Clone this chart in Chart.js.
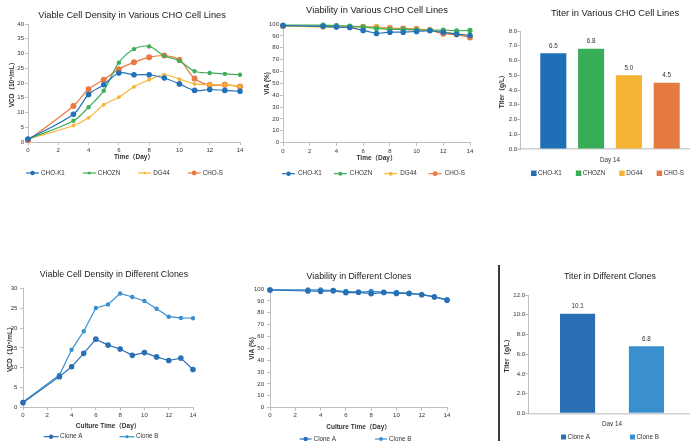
<!DOCTYPE html>
<html>
<head>
<meta charset="utf-8">
<title>CHO cell line comparison</title>
<script src="https://cdn.jsdelivr.net/npm/chart.js@4.4.1/dist/chart.umd.min.js"></script>
<style>
  html, body { margin: 0; padding: 0; width: 690px; height: 441px; overflow: hidden; background: #fff; }
  canvas { position: absolute; }
  #divider { position: absolute; left: 498px; top: 265px; width: 2px; height: 176px; background: #3a3a3a; }
</style>
</head>
<body>
<canvas id="vcdLines"></canvas>
<canvas id="viaLines"></canvas>
<canvas id="titerLines"></canvas>
<canvas id="vcdClones"></canvas>
<canvas id="viaClones"></canvas>
<canvas id="titerClones"></canvas>
<div id="divider"></div>
<script>
// ---- data ----
const days = [0, 3, 4, 5, 6, 7, 8, 9, 10, 11, 12, 13, 14];
const cellLines = ['CHO-K1', 'CHOZN', 'DG44', 'CHO-S'];
const clones = ['Clone A', 'Clone B'];

const vcdK1 = [1.0, 9.4, 16.1, 19.4, 23.4, 22.8, 22.8, 21.7, 19.7, 17.5, 17.8, 17.5, 17.2];
const vcdZN = [1.0, 7.2, 11.8, 17.4, 26.9, 31.5, 32.4, 29.2, 27.5, 24.0, 23.4, 23.1, 22.8];
const vcdDG = [1.0, 5.6, 8.2, 12.6, 15.2, 18.7, 21.1, 22.8, 21.3, 19.7, 19.4, 19.4, 18.9];
const vcdS  = [0.6, 12.2, 17.9, 21.1, 24.7, 27.0, 28.7, 29.3, 27.8, 21.5, 19.3, 19.4, 18.8];

const viaK1 = [98.6, 98.0, 97.4, 97.1, 94.6, 92.0, 93.1, 93.1, 93.7, 94.3, 93.0, 91.5, 90.3];
const viaZN = [99.1, 99.1, 98.6, 98.3, 97.5, 96.3, 95.4, 95.4, 95.0, 94.9, 94.9, 94.3, 94.6];
const viaDG = [98.3, 97.4, 97.6, 97.4, 97.5, 97.4, 95.8, 95.4, 94.8, 94.5, 93.1, 92.0, 90.0];
const viaS  = [98.3, 98.0, 98.0, 97.4, 97.7, 97.4, 96.6, 96.3, 95.7, 94.9, 91.7, 91.1, 88.6];

const titerLines = [6.5, 6.8, 5.0, 4.5];

const vcdA = [1.1, 7.7, 10.2, 13.6, 17.2, 15.7, 14.7, 13.1, 13.8, 12.7, 11.8, 12.4, 9.5];
const vcdB = [1.3, 8.1, 14.5, 19.2, 25.1, 26.0, 28.8, 27.9, 26.9, 24.9, 22.9, 22.6, 22.5];

const viaA = [99.2, 98.3, 98.0, 98.6, 96.9, 97.2, 96.1, 97.0, 96.3, 96.2, 95.2, 93.3, 90.6];
const viaB = [99.2, 99.2, 99.2, 98.6, 98.0, 97.3, 98.0, 97.3, 97.2, 96.5, 95.3, 93.6, 90.8];

const titerClones = [10.1, 6.8];

// ---- styles ----
const FONT = "'Liberation Sans', Arial, 'Noto Sans CJK SC', sans-serif";
const TEXT = '#333333';
const AXIS = '#bfbfbf';
const lineColors = ['#2372b9', '#3fae5a', '#f7b731', '#e9793f'];
const barColors = ['#1f6fb6', '#38ad58', '#f5b433', '#e57a40'];
const cloneColors = ['#2a6fb5', '#3a90cf'];
const tickFont = { family: FONT, size: 6 };
const axisTitleFont = { family: FONT, size: 6.5, weight: 'bold' };
const labelFont = { family: FONT, size: 6.3 };

Chart.defaults.font.family = FONT;

// legend drawn as one centred row: line+dot or small square, then the label
const rowLegend = {
  id: 'rowLegend',
  afterDraw(chart, args, o) {
    const ctx = chart.ctx;
    const sets = chart.data.datasets;
    ctx.save();
    ctx.font = labelFont.size + 'px ' + FONT;
    ctx.textBaseline = 'middle';
    const widths = sets.map(ds => o.mark + o.textGap + ctx.measureText(ds.label).width);
    const total = widths.reduce((a, b) => a + b, 0) + o.gap * (sets.length - 1);
    let x = o.x - o.left - total / 2;
    const y = o.y - o.top;
    sets.forEach((ds, i) => {
      if (o.kind === 'box') {
        ctx.fillStyle = ds.backgroundColor;
        ctx.fillRect(x, y - o.mark / 2, o.mark, o.mark);
      } else {
        ctx.strokeStyle = ds.borderColor;
        ctx.lineWidth = ds.borderWidth;
        ctx.beginPath();
        ctx.moveTo(x, y);
        ctx.lineTo(x + o.mark, y);
        ctx.stroke();
        ctx.fillStyle = ds.borderColor;
        ctx.beginPath();
        ctx.arc(x + o.mark / 2, y, ds.pointRadius, 0, Math.PI * 2);
        ctx.fill();
      }
      ctx.fillStyle = TEXT;
      ctx.fillText(ds.label, x + o.mark + o.textGap, y);
      x += widths[i] + o.gap;
    });
    ctx.restore();
  }
};

// value labels above bars
const barValues = {
  id: 'barValues',
  afterDatasetsDraw(chart) {
    const ctx = chart.ctx;
    ctx.save();
    ctx.font = labelFont.size + 'px ' + FONT;
    ctx.fillStyle = TEXT;
    ctx.textAlign = 'center';
    ctx.textBaseline = 'middle';
    chart.data.datasets.forEach((ds, i) => {
      chart.getDatasetMeta(i).data.forEach((bar, j) => {
        ctx.fillText(ds.data[j].toFixed(1), bar.x, bar.y - 7);
      });
    });
    ctx.restore();
  }
};

function place(id, box) {
  const c = document.getElementById(id);
  c.width = box.width;
  c.height = box.height;
  c.style.left = box.left + 'px';
  c.style.top = box.top + 'px';
  return c;
}

// builds options so the plot area lands where it is in the reference
function buildOptions(g) {
  const tLH = g.titleSize * 1.2;
  const tTop = g.titleY - g.box.top - tLH / 2;
  const tBottom = g.area.top - g.box.top - tTop - tLH;
  const isBar = g.kind === 'bar';
  const xFont = isBar ? labelFont : tickFont;
  const xPad = g.xTickY - g.area.bottom - (isBar ? 0 : 3) - xFont.size * 0.6;

  let x;
  if (isBar) {
    x = {
      type: 'category',
      grid: { display: false, drawTicks: false },
      border: { color: '#d0d0d0', width: 1.5 },
      ticks: { font: xFont, color: TEXT, padding: xPad }
    };
  } else {
    x = {
      type: 'linear', min: 0, max: 14,
      grid: { drawOnChartArea: false, tickLength: 3, color: AXIS },
      border: { color: AXIS },
      ticks: { stepSize: 2, font: xFont, color: TEXT, padding: xPad, maxRotation: 0 },
      title: {
        display: true, text: g.xTitle, font: axisTitleFont, color: TEXT,
        padding: { top: 0, bottom: g.area.bottom + g.xHeight - g.xTitleY - axisTitleFont.size * 0.6 }
      }
    };
  }
  x.afterFit = s => { s.height = g.xHeight; };

  return {
    responsive: false,
    animation: false,
    layout: { padding: { left: 0, top: 0, right: 0, bottom: g.box.top + g.box.height - g.area.bottom - g.xHeight } },
    plugins: {
      title: {
        display: true, text: g.title, color: '#1a1a1a',
        font: { family: FONT, size: g.titleSize, weight: 'normal' },
        padding: { top: tTop, bottom: tBottom }
      },
      legend: { display: false },
      tooltip: { enabled: false },
      rowLegend: Object.assign({ left: g.box.left, top: g.box.top }, g.legend)
    },
    scales: {
      x: x,
      y: {
        min: 0, max: g.yMax,
        grid: { drawOnChartArea: false, tickLength: 3, color: AXIS },
        border: { color: AXIS },
        ticks: {
          stepSize: g.yStep, font: tickFont, color: TEXT, padding: g.yTickPad,
          callback: v => v.toFixed(g.yDecimals || 0)
        },
        title: {
          display: true, text: g.yTitle, font: axisTitleFont, color: TEXT,
          padding: { top: g.yTitleX - g.box.left - axisTitleFont.size * 0.6, bottom: 0 }
        },
        afterFit: s => { s.width = g.area.left - g.box.left; }
      },
      // empty right-hand scale, only reserves room so the title stays centred
      spacer: {
        type: 'linear', position: 'right', display: true,
        grid: { display: false }, border: { display: false }, ticks: { display: false },
        afterFit: s => { s.width = g.box.left + g.box.width - g.area.right; }
      }
    }
  };
}

function lineSet(label, values, color, radius, tension) {
  return {
    label: label,
    data: days.map((d, i) => ({ x: d, y: values[i] })),
    borderColor: color,
    backgroundColor: color,
    pointBackgroundColor: color,
    pointBorderColor: color,
    borderWidth: 1.2,
    pointRadius: radius,
    pointHoverRadius: radius,
    tension: tension,
    clip: false,
    yAxisID: 'y'
  };
}

function barSet(label, value, color, catPct, barPct) {
  return {
    label: label,
    data: [value],
    backgroundColor: color,
    borderWidth: 0,
    categoryPercentage: catPct,
    barPercentage: barPct,
    yAxisID: 'y'
  };
}

// ---- panel geometry (page pixels) ----
const G1 = {
  box: { left: 0, top: 0, width: 264, height: 185 },
  area: { left: 28, top: 24, right: 240, bottom: 142 },
  title: 'Viable Cell Density in Various CHO Cell Lines', titleSize: 9.3, titleY: 15,
  yTitle: 'VCD（10⁶/mL）', yTitleX: 12.5, yTickPad: 1, yMax: 40, yStep: 5,
  xTitle: 'Time（Day）', xTickY: 150.7, xTitleY: 157.7, xHeight: 20,
  legend: { x: 124.5, y: 173, gap: 18, mark: 13, textGap: 2, kind: 'line' }
};
const G2 = {
  box: { left: 260, top: 0, width: 234, height: 185 },
  area: { left: 283, top: 24, right: 470, bottom: 142.7 },
  title: 'Viability in Various CHO Cell Lines', titleSize: 9.3, titleY: 10.8,
  yTitle: 'VIA (%)', yTitleX: 267.5, yTickPad: 1, yMax: 100, yStep: 10,
  xTitle: 'Time（Day）', xTickY: 151.7, xTitleY: 158.3, xHeight: 20,
  legend: { x: 373.5, y: 173.7, gap: 12, mark: 13, textGap: 3, kind: 'line' }
};
const G3 = {
  kind: 'bar',
  box: { left: 490, top: 0, width: 250, height: 185 },
  area: { left: 520, top: 31, right: 700, bottom: 149 },
  title: 'Titer in Various CHO Cell Lines', titleSize: 9.3, titleY: 13.7,
  yTitle: 'Titer（g/L）', yTitleX: 502.5, yTickPad: 0, yMax: 8, yStep: 1, yDecimals: 1,
  xTickY: 160, xHeight: 15,
  legend: { x: 607.5, y: 173.3, gap: 14, mark: 5.5, textGap: 1.5, kind: 'box' }
};
const G4 = {
  box: { left: 0, top: 260, width: 228, height: 190 },
  area: { left: 23, top: 288.7, right: 193, bottom: 407 },
  title: 'Viable Cell Density in Different Clones', titleSize: 8.8, titleY: 274.7,
  yTitle: 'VCD（10⁶/mL）', yTitleX: 10, yTickPad: 2.7, yMax: 30, yStep: 5,
  xTitle: 'Culture Time（Day）', xTickY: 415, xTitleY: 426.7, xHeight: 24,
  legend: { x: 101, y: 436.7, gap: 37, mark: 15, textGap: 1.5, kind: 'line' }
};
const G5 = {
  box: { left: 245, top: 260, width: 228, height: 190 },
  area: { left: 270, top: 289, right: 447, bottom: 407.7 },
  title: 'Viability in Different Clones', titleSize: 8.8, titleY: 277,
  yTitle: 'VIA (%)', yTitleX: 252.5, yTickPad: 3, yMax: 100, yStep: 10,
  xTitle: 'Culture Time（Day）', xTickY: 415, xTitleY: 427.7, xHeight: 24.5,
  legend: { x: 355.5, y: 439, gap: 39, mark: 12, textGap: 2, kind: 'line' }
};
const G6 = {
  kind: 'bar',
  box: { left: 500, top: 260, width: 220, height: 190 },
  area: { left: 528, top: 295, right: 696, bottom: 413.3 },
  title: 'Titer in Different Clones', titleSize: 8.8, titleY: 276.3,
  yTitle: 'Titer（g/L）', yTitleX: 507.5, yTickPad: 0, yMax: 12, yStep: 2, yDecimals: 1,
  xTickY: 424, xHeight: 13,
  legend: { x: 610, y: 437, gap: 40, mark: 5, textGap: 1.5, kind: 'box' }
};

// ---- charts ----
new Chart(place('vcdLines', G1.box), {
  type: 'line',
  data: { datasets: [
    lineSet(cellLines[0], vcdK1, lineColors[0], 2.2, 0.35),
    lineSet(cellLines[1], vcdZN, lineColors[1], 1.6, 0.35),
    lineSet(cellLines[2], vcdDG, lineColors[2], 1.3, 0.35),
    lineSet(cellLines[3], vcdS, lineColors[3], 2.4, 0.35)
  ] },
  options: buildOptions(G1),
  plugins: [rowLegend]
});

new Chart(place('viaLines', G2.box), {
  type: 'line',
  data: { datasets: [
    lineSet(cellLines[0], viaK1, lineColors[0], 2.2, 0),
    lineSet(cellLines[1], viaZN, lineColors[1], 2.0, 0),
    lineSet(cellLines[2], viaDG, lineColors[2], 2.0, 0),
    lineSet(cellLines[3], viaS, lineColors[3], 2.4, 0)
  ] },
  options: buildOptions(G2),
  plugins: [rowLegend]
});

new Chart(place('titerLines', G3.box), {
  type: 'bar',
  data: {
    labels: ['Day 14'],
    datasets: cellLines.map((name, i) => barSet(name, titerLines[i], barColors[i], 0.84, 0.69))
  },
  options: buildOptions(G3),
  plugins: [rowLegend, barValues]
});

new Chart(place('vcdClones', G4.box), {
  type: 'line',
  data: { datasets: [
    lineSet(clones[0], vcdA, cloneColors[0], 2.2, 0),
    lineSet(clones[1], vcdB, cloneColors[1], 1.6, 0)
  ] },
  options: buildOptions(G4),
  plugins: [rowLegend]
});

new Chart(place('viaClones', G5.box), {
  type: 'line',
  data: { datasets: [
    lineSet(clones[0], viaA, cloneColors[0], 2.2, 0),
    lineSet(clones[1], viaB, cloneColors[1], 2.0, 0)
  ] },
  options: buildOptions(G5),
  plugins: [rowLegend]
});

new Chart(place('titerClones', G6.box), {
  type: 'bar',
  data: {
    labels: ['Day 14'],
    datasets: clones.map((name, i) => barSet(name, titerClones[i], cloneColors[i], 0.82, 0.51))
  },
  options: buildOptions(G6),
  plugins: [rowLegend, barValues]
});
</script>
</body>
</html>
